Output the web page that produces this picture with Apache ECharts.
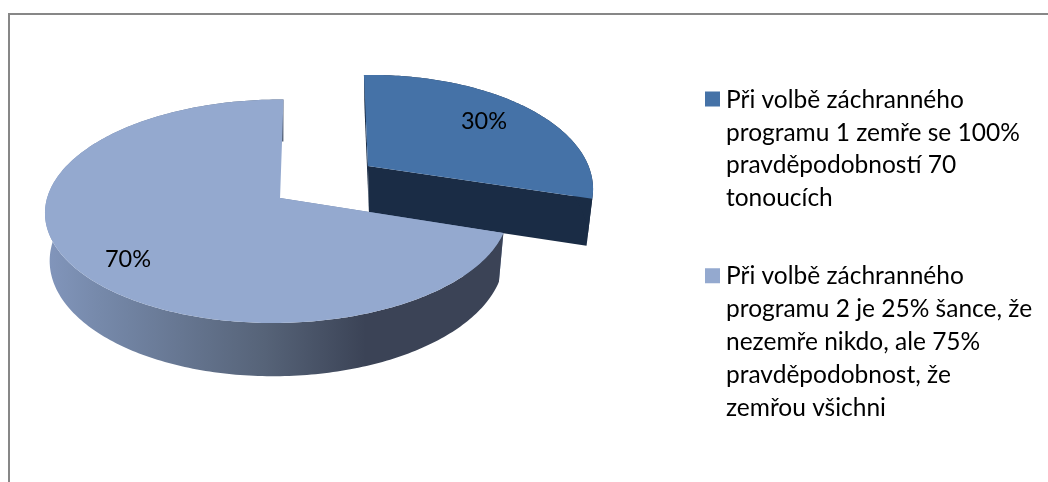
<!DOCTYPE html>
<html>
<head>
<meta charset="utf-8">
<style>html,body{margin:0;padding:0;background:#fff}#c{width:1048px;height:482px}</style>
<script src="https://cdn.jsdelivr.net/npm/echarts@6/dist/echarts.min.js"></script>
</head>
<body>
<div id="c"></div>
<script>
// Data
var categories = [
  'Při volbě záchranného programu 1 zemře se 100% pravděpodobností 70 tonoucích',
  'Při volbě záchranného programu 2 je 25% šance, že nezemře nikdo, ale 75% pravděpodobnost, že zemřou všichni'
];
var legendLines = [
  ['Při volbě záchranného', 'programu 1 zemře se 100%', 'pravděpodobností 70', 'tonoucích'],
  ['Při volbě záchranného', 'programu 2 je 25% šance, že', 'nezemře nikdo, ale 75%', 'pravděpodobnost, že', 'zemřou všichni']
];
var values = [30, 70];

// Styling / projection of each slice's disk onto the page
var topColors = ['#4572a7', '#94a9cf'];
var faceColors = ['#1a2c45', '#7084a8'];
var rimStops = [
  null,
  [[0, '#8296bc'], [0.12, '#7689aa'], [0.48, '#566378'], [0.7, '#3b4356'], [1, '#3b4356']]
];
var views = [
  {ex: 369, ey: 190, rx: 224, ry: 115, p: 0, q: -0.209, s: 0.044, t: -0.016, dx: 1, dy: 47, sx: 0.97, sy: 1, lx: 484, ly: 121},
  {ex: 276.8, ey: 211.25, rx: 231.8, ry: 111.75, p: 0.012, q: -0.1186, s: -0.035, t: 0, dx: 0, dy: 47, sx: 0.98, sy: 1.05, lx: 128, ly: 259}
];
var FONT = 'Lato, "Open Sans", sans-serif';

// unit disk -> perspective-tilted ellipse on the page
function mapDisk(v, a, b, lower) {
  var d = 1 + v.q * b;
  var b1 = (b + v.q) / d, a1 = a * Math.sqrt(1 - v.q * v.q) / d;
  var e = 1 + v.p * a1;
  var a2 = (a1 + v.p) / e, b2 = b1 * Math.sqrt(1 - v.p * v.p) / e;
  var x = v.ex + v.rx * a2 + v.s * v.ry * b2, y = v.ey + v.ry * b2 + v.t * v.rx * a2;
  if (!lower) return [x, y];
  var ap = mapDisk(v, 0, 0, false);
  return [ap[0] + v.dx + v.sx * (x - ap[0]), ap[1] + v.dy + v.sy * (y - ap[1])];
}
function project(v, theta, lower) { return mapDisk(v, Math.sin(theta), -Math.cos(theta), lower); }
function apex(v, lower) { return mapDisk(v, 0, 0, lower); }
function arc(v, a0, a1, lower) {
  var pts = [], n = Math.ceil(Math.abs(a1 - a0) / (Math.PI / 180));
  for (var i = 0; i <= n; i++) pts.push(project(v, a0 + (a1 - a0) * i / n, lower));
  return pts;
}
function poly(points, fill) {
  return {type: 'polygon', shape: {points: points}, style: {fill: fill, stroke: null}};
}
var total = values.reduce(function (s, x) { return s + x; }, 0);

function sliceRenderer(idx) {
  return function (params, api) {
    var val = api.value(0), before = 0;
    for (var i = 0; i < idx; i++) before += values[i];
    var a0 = before / total * 2 * Math.PI, a1 = (before + val) / total * 2 * Math.PI;
    var v = views[idx], kids = [];
    var rimFill = rimStops[idx]
      ? new echarts.graphic.LinearGradient(45, 0, 503, 0, rimStops[idx].map(function (s) { return {offset: s[0], color: s[1]}; }), true)
      : faceColors[idx];
    // start-angle cut face
    kids.push(poly([project(v, a0, false), project(v, a0, true), apex(v, true), apex(v, false)], faceColors[idx]));
    // end-angle cut face (only front-facing for the exploded slice)
    if (idx === 0) kids.push(poly([apex(v, false), project(v, a1, false), project(v, a1, true), apex(v, true)], faceColors[idx]));
    // outer rim wall
    kids.push(poly(arc(v, a0, a1, false).concat(arc(v, a1, a0, true)), rimFill));
    // top surface
    kids.push(poly([apex(v, false)].concat(arc(v, a0, a1, false)), topColors[idx]));
    // label
    kids.push({type: 'text', style: {
      text: Math.round(val / total * 100) + '%', x: v.lx, y: v.ly,
      align: 'center', verticalAlign: 'middle', fill: '#000', font: '23.5px ' + FONT
    }});
    return {type: 'group', children: kids};
  };
}

var marker = function (y) {
  return 'path://M0 0L0 0.01Z M1 ' + y + 'H16V' + (y + 15) + 'H1Z M17 164L17 163.99Z';
};
var chart = echarts.init(document.getElementById('c'), null, {renderer: 'canvas'});
chart.setOption({
  animation: false,
  backgroundColor: '#fff',
  legend: {
    orient: 'vertical', left: 704, top: 67, padding: 0,
    itemWidth: 17, itemHeight: 164, itemGap: 29, selectedMode: false,
    data: [
      {name: categories[0], icon: marker(24.5)},
      {name: categories[1], icon: marker(8.3)}
    ],
    formatter: function (name) { return legendLines[categories.indexOf(name)].join('\n'); },
    textStyle: {fontFamily: FONT, fontSize: 24.5, lineHeight: 32.8, color: '#000'}
  },
  graphic: [{
    type: 'rect', silent: true, z: -1,
    shape: {x: 9, y: 14, width: 1200, height: 700},
    style: {fill: 'none', stroke: '#878787', lineWidth: 2}
  }],
  series: values.map(function (val, i) {
    return {
      type: 'custom', name: categories[i], coordinateSystem: 'none',
      silent: true, itemStyle: {color: topColors[i]},
      renderItem: sliceRenderer(i),
      data: [[val]]
    };
  })
});
</script>
</body>
</html>
